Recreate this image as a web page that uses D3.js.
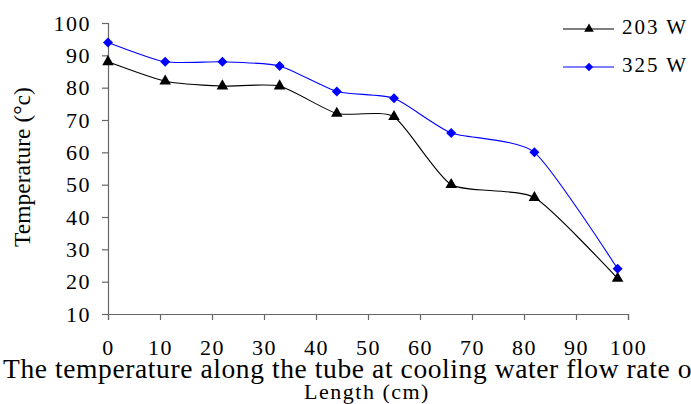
<!DOCTYPE html>
<html>
<head>
<meta charset="utf-8">
<script src="https://cdn.jsdelivr.net/npm/d3@7"></script>
<style>
  body { margin: 0; background: #fff; }
  svg text { font-family: "Liberation Serif", "Times New Roman", serif; fill: #000; }
</style>
</head>
<body>
<div id="chart"></div>
<script>
const lengths = [0, 11, 22, 33, 44, 55, 66, 82, 98];
const temp203 = [88, 82, 80.5, 80.5, 72, 71, 50, 46, 21];
const temp325 = [94, 88, 88, 86.7, 78.8, 76.7, 66, 60, 24];
const xTicks = [0, 10, 20, 30, 40, 50, 60, 70, 80, 90, 100];
const yTicks = [10, 20, 30, 40, 50, 60, 70, 80, 90, 100];
const seriesNames = ["203 W", "325 W"];

const W = 691, H = 404;
const margin = { top: 23, right: 63, bottom: 90, left: 108 };
const width = W - margin.left - margin.right;
const height = H - margin.top - margin.bottom;

const svg = d3.select('#chart')
  .append("svg")
    .attr("width", W)
    .attr("height", H);

const g = svg.append("g")
  .attr("transform", "translate(" + margin.left + "," + margin.top + ")");

const x = d3.scaleLinear().domain([0, 100]).range([0, width]);
const y = d3.scaleLinear().domain([10, 100]).range([height, 0]);

// Y axis
const yAxis = g.append("g")
  .call(d3.axisLeft(y).tickValues(yTicks).tickSize(6).tickPadding(11));
// X axis
const xAxis = g.append("g")
  .attr("transform", "translate(0," + height + ")")
  .call(d3.axisBottom(x).tickValues(xTicks).tickSize(6).tickPadding(19));

[xAxis, yAxis].forEach(a => {
  a.selectAll("path, line").attr("stroke", "#666").attr("stroke-width", 1.2);
  a.selectAll("text")
    .style("font-family", "Liberation Serif")
    .style("font-size", "22px")
    .style("letter-spacing", "1.5px")
    .attr("fill", "#000");
});

const line = d3.line()
  .x((d, i) => x(lengths[i]))
  .y(d => y(d))
  .curve(d3.curveCardinal.tension(0.4));

// diamond drawn as a square turned 45 degrees
const series = [
  { name: seriesNames[0], values: temp203, color: "#000", marker: d3.symbolTriangle, size: 58, rot: 0 },
  { name: seriesNames[1], values: temp325, color: "#0000ff", marker: d3.symbolSquare, size: 50, rot: 45 }
];

series.forEach(s => {
  g.append("path")
    .datum(s.values)
    .attr("fill", "none")
    .attr("stroke", s.color)
    .attr("stroke-width", 1.1)
    .attr("d", line);

  g.selectAll(null)
    .data(s.values)
    .enter().append("path")
    .attr("transform", (d, i) => "translate(" + x(lengths[i]) + "," + y(d) + ") rotate(" + s.rot + ")")
    .attr("d", d3.symbol().type(s.marker).size(s.size))
    .attr("fill", s.color);
});

// Legend
const legend = svg.append("g").attr("transform", "translate(563,29)");
series.forEach((s, i) => {
  const row = legend.append("g").attr("transform", "translate(0," + (i * 38) + ")");
  row.append("line").attr("x1", 0).attr("x2", 51).attr("stroke", s.color).attr("stroke-width", 1.1);
  row.append("path")
    .attr("transform", "translate(26,0) rotate(" + s.rot + ")")
    .attr("d", d3.symbol().type(s.marker).size(s.size * 0.7))
    .attr("fill", s.color);
  row.append("text")
    .attr("x", 59).attr("y", 5)
    .style("font-size", "21px")
    .style("letter-spacing", "2px")
    .text(s.name);
});

// Y axis title
svg.append("text")
  .attr("transform", "translate(30,167) rotate(-90)")
  .attr("text-anchor", "middle")
  .style("font-size", "23.5px")
  .text("Temperature (°c)");

// Caption
svg.append("text")
  .attr("x", 3).attr("y", 378)
  .style("font-size", "27.5px")
  .style("letter-spacing", "0.6px")
  .text("The temperature along the tube at cooling water flow rate of");

// X axis title
svg.append("text")
  .attr("x", 367).attr("y", 399)
  .attr("text-anchor", "middle")
  .style("font-size", "22px")
  .style("letter-spacing", "1.5px")
  .text("Length (cm)");
</script>
</body>
</html>
